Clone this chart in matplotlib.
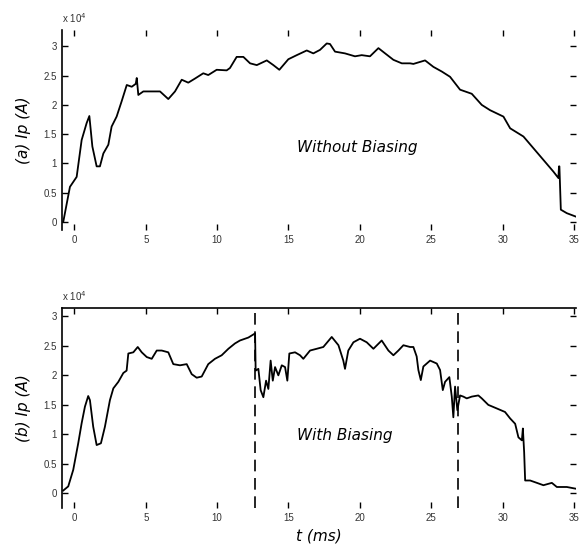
import matplotlib.pyplot as plt
from matplotlib.ticker import FuncFormatter
import numpy as np

# plasma current, shot without biasing (t in ms, Ip in units of 1e4 A)
t_a = [-0.78, -0.31, 0.16, 0.51, 0.86, 1.05, 1.26, 1.56, 1.79, 2.03, 2.38, 2.61, 2.96,
       3.31, 3.67, 4.02, 4.30, 4.37, 4.48, 4.83, 5.42, 6.0, 6.58, 7.05, 7.52, 7.98,
       8.45, 9.03, 9.38, 9.97, 10.67, 10.9, 11.37, 11.84, 12.31, 12.78, 13.48, 13.94,
       14.36, 14.99, 15.58, 16.28, 16.74, 17.21, 17.68, 17.91, 18.26, 18.96, 19.66,
       20.13, 20.71, 21.30, 21.77, 22.35, 22.94, 23.52, 23.75, 24.57, 25.15, 25.74,
       26.32, 27.02, 27.84, 28.54, 29.12, 30.06, 30.53, 31.46, 32.16, 32.86, 33.56,
       33.91, 33.95, 33.98, 34.08, 34.5, 35.15]
ip_a = [0.0, 0.60, 0.77, 1.40, 1.69, 1.81, 1.29, 0.95, 0.95, 1.17, 1.32, 1.63, 1.80,
        2.06, 2.34, 2.31, 2.36, 2.46, 2.17, 2.23, 2.23, 2.23, 2.10, 2.23, 2.43, 2.38,
        2.45, 2.54, 2.51, 2.60, 2.59, 2.63, 2.82, 2.82, 2.71, 2.68, 2.76, 2.68, 2.60,
        2.78, 2.85, 2.93, 2.88, 2.94, 3.05, 3.04, 2.91, 2.88, 2.83, 2.85, 2.83, 2.97,
        2.88, 2.77, 2.71, 2.71, 2.70, 2.76, 2.65, 2.57, 2.48, 2.26, 2.19, 2.0, 1.91,
        1.80, 1.60, 1.46, 1.26, 1.06, 0.86, 0.75, 0.95, 0.95, 0.21, 0.15, 0.09]

# plasma current, shot with biasing
t_b = [-0.78, -0.43, -0.08, 0.27, 0.51, 0.74, 0.97, 1.09, 1.32, 1.56, 1.86, 2.14, 2.49,
       2.73, 3.08, 3.43, 3.66, 3.78, 4.13, 4.44, 4.72, 5.07, 5.42, 5.77, 6.12, 6.58,
       6.93, 7.40, 7.87, 8.22, 8.57, 8.92, 9.38, 9.85, 10.32, 10.79, 11.25, 11.6,
       12.19, 12.66, 12.7, 12.89, 13.05, 13.24, 13.43, 13.59, 13.75, 13.9, 14.06,
       14.29, 14.53, 14.76, 14.92, 15.06, 15.46, 15.81, 16.04, 16.51, 16.98, 17.44,
       18.03, 18.5, 18.84, 18.96, 19.19, 19.55, 20.01, 20.48, 20.95, 21.53, 22.0,
       22.35, 22.7, 23.05, 23.52, 23.75, 23.98, 24.1, 24.27, 24.45, 24.92, 25.39,
       25.62, 25.81, 25.97, 26.27, 26.44, 26.55, 26.67, 26.83, 27.02, 27.25, 27.49,
       27.84, 28.30, 28.54, 29.0, 29.59, 30.17, 30.53, 30.88, 31.11, 31.35, 31.42,
       31.51, 31.58, 31.93, 32.4, 32.86, 33.45, 33.8, 34.5, 35.15]
ip_b = [0.05, 0.12, 0.40, 0.85, 1.19, 1.47, 1.65, 1.58, 1.13, 0.82, 0.85, 1.13, 1.58,
        1.78, 1.89, 2.04, 2.08, 2.37, 2.39, 2.48, 2.39, 2.31, 2.28, 2.42, 2.42, 2.39,
        2.19, 2.17, 2.19, 2.02, 1.96, 1.98, 2.19, 2.28, 2.34, 2.45, 2.54, 2.59, 2.64,
        2.71, 2.08, 2.11, 1.75, 1.63, 1.91, 1.77, 2.25, 1.91, 2.14, 2.0, 2.17, 2.14,
        1.91, 2.37, 2.39, 2.34, 2.28, 2.42, 2.45, 2.48, 2.65, 2.51, 2.25, 2.11, 2.42,
        2.56, 2.62, 2.56, 2.45, 2.59, 2.42, 2.34, 2.42, 2.51, 2.48, 2.48, 2.32, 2.09,
        1.92, 2.15, 2.25, 2.20, 2.09, 1.75, 1.89, 1.97, 1.64, 1.29, 1.81, 1.41, 1.66,
        1.64, 1.61, 1.64, 1.66, 1.61, 1.50, 1.44, 1.38, 1.27, 1.18, 0.95, 0.90, 1.10,
        0.70, 0.22, 0.22, 0.18, 0.14, 0.18, 0.11, 0.11, 0.08]

# biasing on / off times
bias_times = [12.66, 26.9]

yticks = [0, 0.5, 1, 1.5, 2, 2.5, 3]
xticks = [0, 5, 10, 15, 20, 25, 30, 35]

plt.rcParams['font.family'] = ['Liberation Sans', 'DejaVu Sans']

fig = plt.figure(figsize=(5.79, 5.51), dpi=100)
ax1 = fig.add_axes([0.107, 0.5826, 0.888, 0.363])
ax2 = fig.add_axes([0.107, 0.078, 0.888, 0.363])

ax1.plot(t_a, np.array(ip_a) * 1e4, color='black', lw=1.3)
ax2.plot(t_b, np.array(ip_b) * 1e4, color='black', lw=1.3)
for tb in bias_times:
    ax2.axvline(tb, color='black', lw=1.2, dashes=(7, 4))

ax1.set_ylim(-0.137e4, 3.28e4)
ax2.set_ylim(-0.246e4, 3.14e4)

scale_fmt = FuncFormatter(lambda v, pos: '%g' % (v / 1e4))

for ax in (ax1, ax2):
    ax.set_xlim(-0.87, 35.15)
    ax.set_xticks(xticks)
    ax.set_yticks(np.array(yticks) * 1e4)
    ax.yaxis.set_major_formatter(scale_fmt)
    ax.tick_params(direction='in', length=4, width=1, labelsize=7,
                   labelcolor='#333333', top=True, right=True)
    ax.spines['right'].set_visible(False)
    ax.spines['bottom'].set_visible(False)
    ax.spines['left'].set_linewidth(1.2)
    ax.text(0.0, 1.025, r'x 10$^4$', transform=ax.transAxes, fontsize=7,
            color='#333333', ha='left', va='bottom')

ax1.spines['top'].set_visible(False)
ax2.spines['top'].set_linewidth(1.2)

lab = dict(fontsize=11, style='italic', family=['DejaVu Sans'])
ax1.set_ylabel('(a) Ip (A)', labelpad=9, **lab)
ax2.set_ylabel('(b) Ip (A)', labelpad=9, **lab)
ax2.set_xlabel('t (ms)', labelpad=4, **lab)

ax1.text(15.6, 1.28e4, 'Without Biasing', va='center', **lab)
ax2.text(15.6, 0.99e4, 'With Biasing', va='center', **lab)

fig.savefig('out.png', dpi=100)
